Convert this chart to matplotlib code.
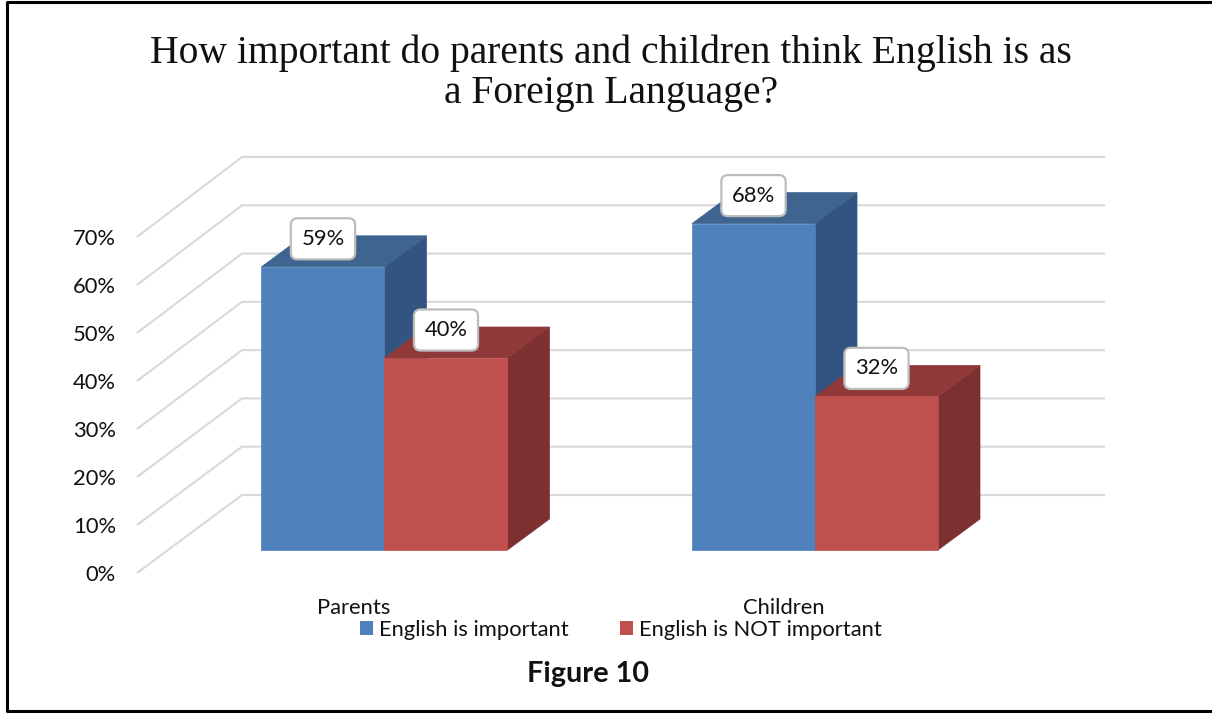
import matplotlib
matplotlib.use("Agg")
import matplotlib.pyplot as plt
from matplotlib.patches import Polygon, Rectangle

categories = ["Parents", "Children"]
series_names = ["English is important", "English is NOT important"]
important = [59, 68]
not_important = [40, 32]
y_ticks = [0, 10, 20, 30, 40, 50, 60, 70]
tick_labels = ["0%", "10%", "20%", "30%", "40%", "50%", "60%", "70%"]

W, H = 1212, 713
BODY = "Lato"
FS = 15.8

# pixels per unit on each axis
X_UNIT = 430.5
Y_UNIT = 4.8
X0 = 384.5
Y0 = 573


def px_x(p):
    return p / X_UNIT


def px_y(p):
    return p / Y_UNIT


fig = plt.figure(figsize=(W / 100, H / 100), dpi=100)
ax = fig.add_axes([0, 0, 1, 1])
ax.set_xlim(-X0 / X_UNIT, (W - X0) / X_UNIT)
ax.set_ylim((Y0 - H) / Y_UNIT, Y0 / Y_UNIT)
ax.axis("off")

# outer frame, open on the right
fig.add_artist(plt.Line2D([1, 6.5 / W, 6.5 / W, 1],
                          [1 - 2 / H, 1 - 2 / H, 2.5 / H, 2.5 / H],
                          color="black", lw=2.2))

# floor corner of the wall and how far the wall runs back
wall_x = px_x(137 - X0)
wall_dx = px_x(105)
wall_dy = px_y(78)
wall_right = px_x(1105 - X0)
back_scale = 1.006
grid_col = "#D9D9D9"
for v, lab in zip(y_ticks, tick_labels):
    back = v * back_scale + wall_dy
    ax.plot([wall_x, wall_x + wall_dx, wall_right], [v, back, back],
            color=grid_col, lw=1.5, zorder=1, solid_capstyle="butt")
    ax.text(px_x(116 - X0), v - px_y(2), lab, ha="right", va="center",
            fontsize=FS, family=BODY, color="#111111")

# bars sit a little in front of the wall
bar_w = px_x(123)
depth_x = px_x(42)
depth_y = px_y(31)
floor = px_y(23)


def draw_bar(left, value, front, top, side, z):
    right = left + bar_w
    h = floor + value
    ax.add_patch(Polygon([(right, floor), (right + depth_x, floor + depth_y),
                          (right + depth_x, h + depth_y), (right, h)],
                         fc=side, ec=side, lw=0.5, zorder=z))
    ax.add_patch(Polygon([(left, h), (right, h), (right + depth_x, h + depth_y),
                          (left + depth_x, h + depth_y)],
                         fc=top, ec=top, lw=0.5, zorder=z))
    ax.add_patch(Rectangle((left, floor), bar_w, value, fc=front, ec=front, lw=0.5,
                           zorder=z + 0.1))


for i in range(len(categories)):
    draw_bar(i - bar_w, important[i], "#4F81BD", "#3E648F", "#335480", 2)
    draw_bar(i, not_important[i], "#C0504D", "#8F3A38", "#7C3130", 3)

box = dict(boxstyle="round,pad=0.48,rounding_size=0.3", fc="white", ec="#BDBDBD", lw=1.6)
for i in range(len(categories)):
    for left, value in ((i - bar_w, important[i]), (i, not_important[i])):
        ax.text(left + bar_w / 2, floor + value + px_y(28), f"{value}%", ha="center",
                va="center", fontsize=FS, family=BODY, color="#111111", bbox=box, zorder=6)
    ax.text(i - px_x(31), -px_y(35), categories[i], ha="center", va="center",
            fontsize=FS, family=BODY, color="#111111")

handles = [Rectangle((0, 0), 1, 1, fc="#4F81BD"), Rectangle((0, 0), 1, 1, fc="#C0504D")]
ax.legend(handles, series_names, ncol=2, loc="center", bbox_to_anchor=(621 / W, 1 - 630 / H),
          bbox_transform=fig.transFigure, frameon=False, handlelength=0.6, handleheight=0.6,
          handletextpad=0.3, columnspacing=2.3, borderpad=0,
          prop={"family": BODY, "size": FS}, labelcolor="#111111")

fig.text(588 / W, 1 - 674 / H, "Figure 10", ha="center", va="center", fontsize=20.8,
         fontweight="bold", family=BODY, color="#111111")
fig.text(611 / W, 1 - 73 / H, "How important do parents and children think English is as\na Foreign Language?",
         ha="center", va="center", fontsize=28.5, family="Liberation Serif", color="#111111",
         linespacing=1.12)

fig.savefig("out.png", dpi=100, facecolor="white")
